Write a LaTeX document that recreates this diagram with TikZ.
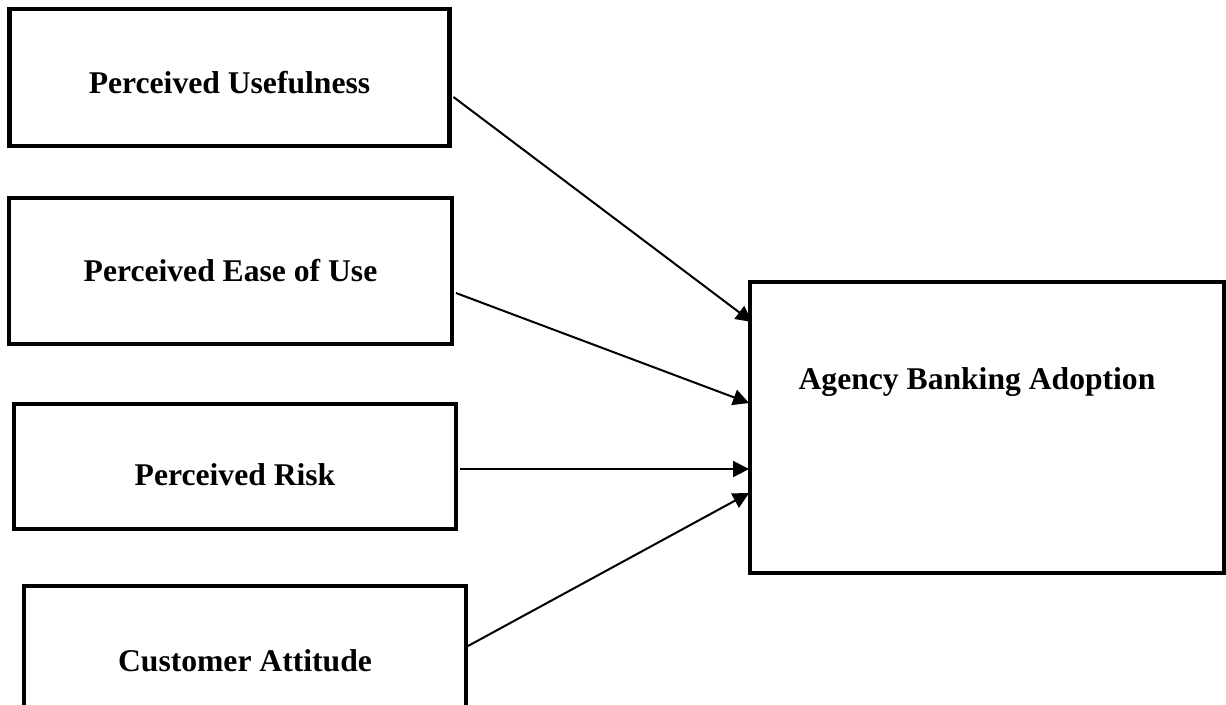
\documentclass[tikz,border=0pt]{standalone}
\usepackage{fontspec}
\setmainfont{Liberation Serif}
\usetikzlibrary{arrows.meta, positioning}

\begin{document}
\begin{tikzpicture}[x=0.02cm, y=-0.02cm, >={Triangle[length=0.32cm, width=0.32cm]}]

    % styles
    \tikzset{
        box/.style={draw, line width=0.085cm, outer sep=0pt, inner sep=0pt,
                    font={\fontsize{18}{22}\selectfont\bfseries}},
        link/.style={->, line width=0.04cm}
    }

    \useasboundingbox (0,0) rectangle (1226,704);
    \clip (0,0) rectangle (1226,704);

    % factors (left column)
    \node[box, minimum width=8.8cm, minimum height=2.74cm, text height=0.65cm] (pu) at (229.5,77.5) {Perceived Usefulness};
    \node[box, minimum width=8.86cm, minimum height=2.92cm] (pe) at (230.5,271) {Perceived Ease of Use};
    \node[box, minimum width=8.84cm, minimum height=2.5cm, text height=0.77cm] (pr) at (235,466.5) {Perceived Risk};
    \node[box, minimum width=8.84cm, minimum height=3.0cm] (ca) at (245,661) {Customer Attitude};

    % outcome
    \node[box, minimum width=9.48cm, minimum height=5.82cm,
          label={[font={\fontsize{18}{22}\selectfont\bfseries}, shift={(-10,-45.5)}]center:Agency Banking Adoption}]
          (aba) at (987,427.5) {};

    % links
    \draw[link] ([shift={(4,19.5)}]pu.east) -- ([shift={(2,-105.5)}]aba.west);
    \draw[link] ([shift={(4,22)}]pe.east) -- ([shift={(-1,-24.5)}]aba.west);
    \draw[link] ([shift={(4,2.5)}]pr.east) -- ([shift={(-1,41.5)}]aba.west);
    \draw[link] ([shift={(2,-15)}]ca.east) -- ([shift={(-1,65.5)}]aba.west);

\end{tikzpicture}
\end{document}
